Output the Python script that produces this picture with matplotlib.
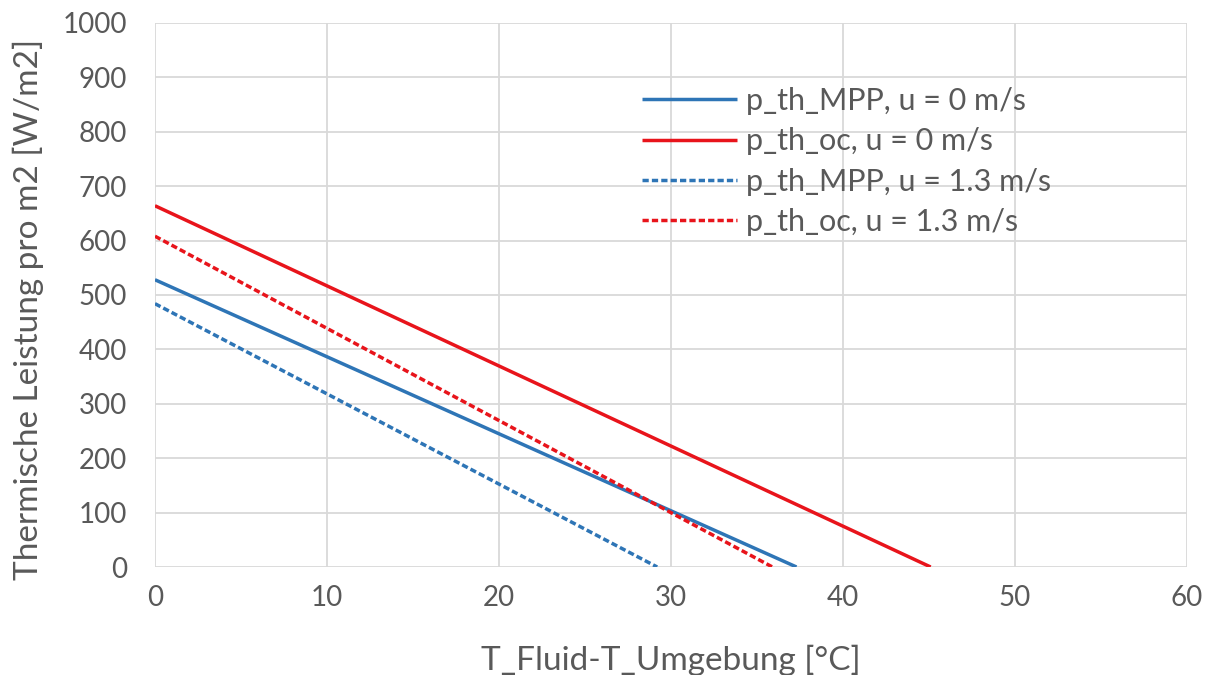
import matplotlib
matplotlib.use("Agg")
import matplotlib.pyplot as plt
import numpy as np

plt.rcParams['font.family'] = ['Lato', 'DejaVu Sans']

labels = ["p_th_MPP, u = 0 m/s", "p_th_oc, u = 0 m/s",
          "p_th_MPP, u = 1.3 m/s", "p_th_oc, u = 1.3 m/s"]
x_start = [0, 0, 0, 0]
x_end = [37.3, 45.1, 29.2, 35.9]
y_start = [528, 664, 484, 608]
y_end = [0, 0, 0, 0]
colors = ["#2E75B6", "#E8141B", "#2E75B6", "#E8141B"]
styles = ["-", "-", (0, (1.8, 0.9)), (0, (1.8, 0.9))]

xticks = [0, 10, 20, 30, 40, 50, 60]
yticks = [0, 100, 200, 300, 400, 500, 600, 700, 800, 900, 1000]

fig = plt.figure(figsize=(12.05, 6.75), dpi=100)
ax = fig.add_axes([0.1286, 0.16, 0.985 - 0.1286, 0.966 - 0.16])

for i in range(4):
    ax.plot([x_start[i], x_end[i]], [y_start[i], y_end[i]], color=colors[i],
            linestyle=styles[i], linewidth=2.5, label=labels[i],
            solid_capstyle='butt', dash_capstyle='butt')

ax.set_xlim(0, 60)
ax.set_ylim(0, 1000)
ax.set_xticks(xticks)
ax.set_yticks(yticks)
ax.grid(True, color="#D9D9D9", linewidth=1.3)
ax.set_axisbelow(True)
for s in ax.spines.values():
    s.set_visible(False)
ax.tick_params(axis='both', length=0, labelsize=20, colors="#595959")
ax.tick_params(axis='y', pad=20)
ax.tick_params(axis='x', pad=13)
ax.set_xlabel("T_Fluid-T_Umgebung [°C]", fontsize=24, color="#595959")
ax.set_ylabel("Thermische Leistung pro m2 [W/m2]", fontsize=24, color="#595959")
ax.xaxis.set_label_coords(0.5, -0.171)
ax.xaxis.label.set_va('center')
ax.yaxis.set_label_coords(-0.123, 0.474)
ax.yaxis.label.set_va('center')

leg = ax.legend(loc="upper left", bbox_to_anchor=(0.457, 0.91), frameon=False,
                fontsize=22, labelcolor="#595959", handlelength=3.1,
                handletextpad=0.3, labelspacing=0.4, borderpad=0)

fig.savefig("out.png", dpi=100)
